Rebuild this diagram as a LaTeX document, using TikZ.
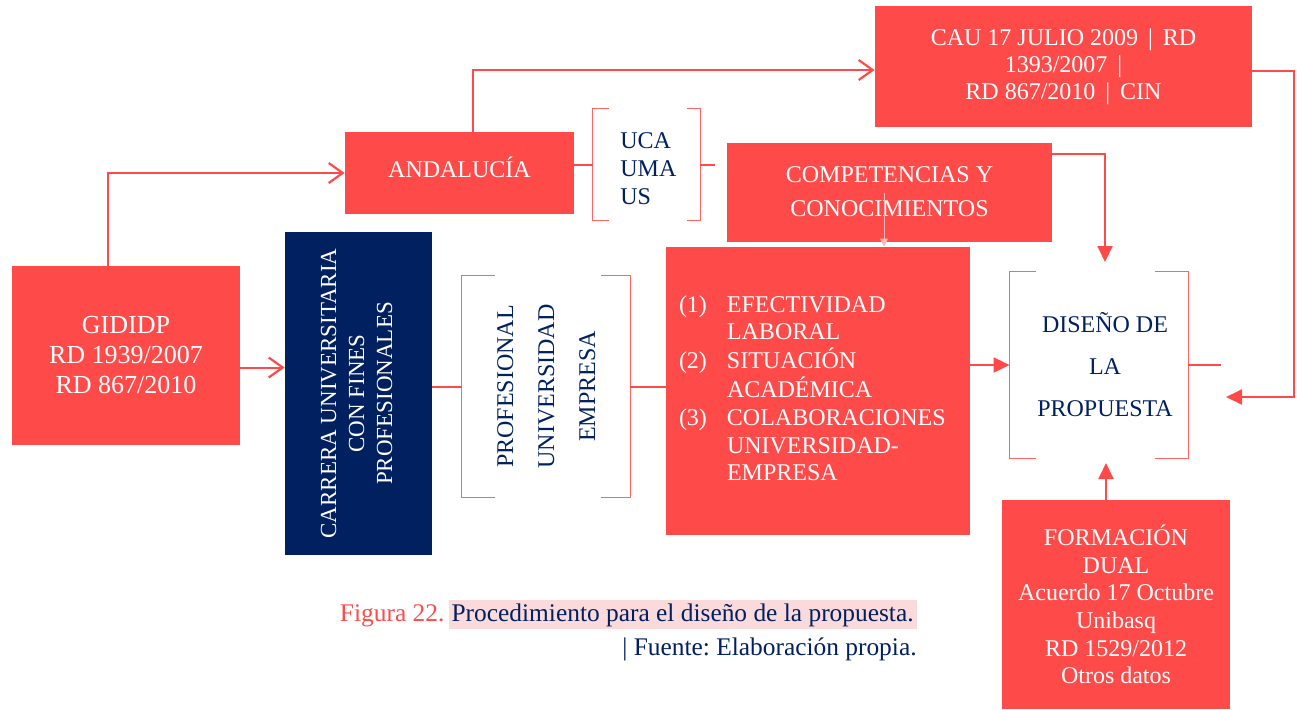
\documentclass[tikz,border=0pt]{standalone}
\usepackage{fontspec}
\setmainfont{Liberation Serif}
\usetikzlibrary{arrows.meta}
\definecolor{boxred}{RGB}{255,74,74}
\definecolor{navy}{RGB}{0,32,96}
\definecolor{capbg}{RGB}{250,218,218}

\begin{document}
\begin{tikzpicture}[x=0.5pt,y=-0.5pt,
    redbox/.style={fill=boxred,text=white,inner sep=0pt,align=center,font=\fontsize{12}{13.85}\selectfont},
    navybox/.style={fill=navy,text=white,inner sep=0pt,align=center,font=\fontsize{11.5}{14}\selectfont},
    region/.style={inner sep=0pt,text=navy,align=center,font=\fontsize{12}{14}\selectfont},
    link/.style={draw=boxred,line width=1pt},
    openarr/.style={link,-{Straight Barb[length=7pt,width=10pt,line width=1.1pt]}},
    fillarr/.style={link,-{Triangle[length=8pt,width=7.5pt]}},
    brk/.style={draw=boxred!85,line width=0.5pt}]

\useasboundingbox (0,0) rectangle (1297,709);

% cajas rojas y azul
\node[redbox,minimum width=114pt,minimum height=89.5pt,font=\fontsize{13}{15}\selectfont] (gididp) at (126,355.5) {GIDIDP\\RD 1939/2007\\RD 867/2010};
\node[redbox,minimum width=114.5pt,minimum height=41pt] (andalucia) at (459.5,173) {\raisebox{6pt}{ANDALUCÍA}};
\node[redbox,minimum width=188.5pt,minimum height=60.5pt,font=\fontsize{12}{13.5}\selectfont] (cau) at (1063.5,66.5) {CAU 17 JULIO 2009 \,|\, RD\\1393/2007 \,|\\RD 867/2010 \,|\, CIN};
\node[redbox,minimum width=162.5pt,minimum height=49.5pt,font=\fontsize{12}{17}\selectfont] (comp) at (889.5,192.5) {\raisebox{-3pt}{\begin{tabular}{@{}c@{}}COMPETENCIAS Y\\CONOCIMIENTOS\end{tabular}}};
\node[redbox,minimum height=144pt,text width=139pt,inner xsep=6.5pt,align=left] (efect) at (818,391)
  {\begin{tabular}{@{}p{24pt}@{}l@{}}
   (1) & EFECTIVIDAD\\ & LABORAL\\
   (2) & SITUACIÓN\\ & ACADÉMICA\\
   (3) & COLABORACIONES\\ & UNIVERSIDAD-\\ & EMPRESA
   \end{tabular}};
\node[redbox,minimum width=114pt,minimum height=104.5pt] (form) at (1116,604.5) {FORMACIÓN\\DUAL\\Acuerdo 17 Octubre\\Unibasq\\RD 1529/2012\\Otros datos};
\node[navybox,minimum width=73.5pt,minimum height=161.5pt] (carrera) at (358.5,393.5) {\rotatebox{90}{\begin{tabular}{@{}c@{}}CARRERA UNIVERSITARIA\\CON FINES\\PROFESIONALES\end{tabular}}};

% zonas con corchetes
\node[region,minimum width=53.5pt,minimum height=55.5pt] (unis) at (646.5,164.5) {};
\node[region,anchor=west,align=left] (unitxt) at (620,169) {UCA\\UMA\\US};
\node[region,minimum width=84pt,minimum height=110.5pt,font=\fontsize{12}{20.5}\selectfont] (prof) at (546,386.5) {\rotatebox{90}{\begin{tabular}{@{}c@{}}PROFESIONAL\\UNIVERSIDAD\\EMPRESA\end{tabular}}};
\node[region,minimum width=89pt,minimum height=93pt,font=\fontsize{12}{21}\selectfont] (diseno) at (1099,365) {\hspace{6pt}DISEÑO DE\\\hspace{6pt}LA\\\hspace{6pt}PROPUESTA};

\draw[brk] ([xshift=8pt]unis.north west) -- (unis.north west) -- (unis.south west) -- ([xshift=8pt]unis.south west);
\draw[brk] ([xshift=-6.5pt]unis.north east) -- (unis.north east) -- (unis.south east) -- ([xshift=-6.5pt]unis.south east);
\draw[brk] ([xshift=16.5pt]prof.north west) -- (prof.north west) -- (prof.south west) -- ([xshift=16.5pt]prof.south west);
\draw[brk] ([xshift=-14.5pt]prof.north east) -- (prof.north east) -- (prof.south east) -- ([xshift=-14.5pt]prof.south east);
\draw[brk] ([xshift=13pt]diseno.north west) -- (diseno.north west) -- (diseno.south west) -- ([xshift=13pt]diseno.south west);
\draw[brk] ([xshift=-16.5pt]diseno.north east) -- (diseno.north east) -- (diseno.south east) -- ([xshift=-16.5pt]diseno.south east);

% conexiones
\coordinate (ustub) at (715,164.5);
\coordinate (dstub) at (1221,365);
\coordinate (dtop) at (1105,262);
\coordinate (dbot) at (1106,463);
\coordinate (cauin) at (1226,397);

\draw[openarr] ([xshift=-9pt]gididp.north) |- (andalucia.west);
\draw[openarr] ([xshift=6.75pt]andalucia.north) |- ([yshift=-1.75pt]cau.west);
\draw[openarr] ([yshift=-6pt]gididp.east) -- ([yshift=-6pt]gididp.east -| carrera.west);
\draw[link] (unis.west -| andalucia.east) -- (unis.west);
\draw[link] (unis.east) -- (ustub);
\draw[link] (carrera.east |- prof.west) -- (prof.west);
\draw[link] (prof.east) -- (prof.east -| efect.west);
\draw[fillarr] (efect.east |- diseno.west) -- (diseno.west);
\draw[link] (diseno.east) -- (dstub);
\draw[fillarr] ([yshift=-2.25pt]cau.east) -- ++(42,0) |- (cauin);
\draw[fillarr] ([yshift=-5.5pt]comp.north east) -| (dtop);
\draw[fillarr] (dbot |- form.north) -- (dbot);
\draw[draw=white!60!boxred,line width=0.4pt,-{Triangle[length=4pt,width=4pt]}] ([xshift=-2.75pt]comp.center) -- ([xshift=-2.75pt]comp.center |- efect.north);

% pie de figura
\node[anchor=north east,align=right,inner sep=0pt,text=navy,font=\fontsize{12.7}{17}\selectfont\frenchspacing] (caption) at (917,600)
  {\textcolor{boxred}{Figura 22.}\,{\fboxsep=1.5pt\colorbox{capbg}{Procedimiento para el diseño de la propuesta.}}\\| Fuente: Elaboración propia.};
\end{tikzpicture}
\end{document}
